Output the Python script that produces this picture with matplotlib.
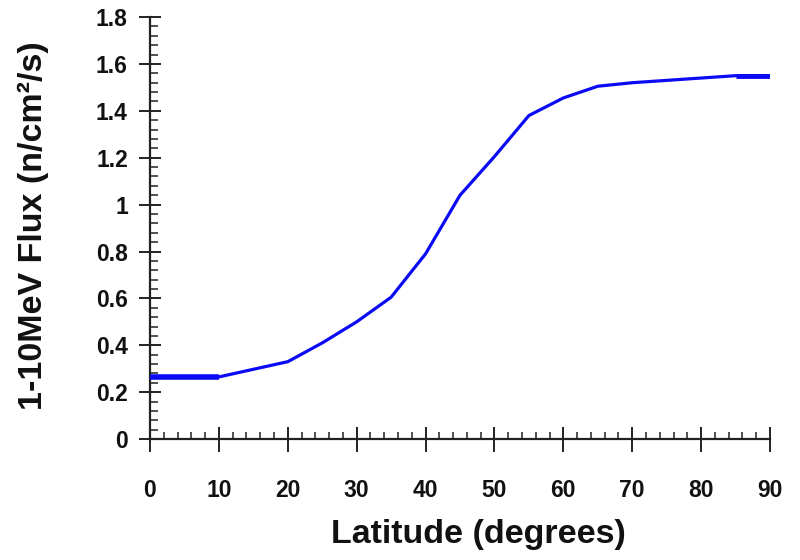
import numpy as np
import matplotlib.pyplot as plt
from matplotlib.ticker import MultipleLocator, FuncFormatter

plt.rcParams['font.family'] = ['Liberation Sans', 'DejaVu Sans']

# Data
latitude = [0, 10, 20, 25, 30, 35, 40, 45, 50, 55, 60, 65, 70, 75, 80, 85, 90]
flux = [0.265, 0.265, 0.33, 0.41, 0.50, 0.605, 0.79, 1.04, 1.205, 1.38, 1.455,
        1.505, 1.52, 1.53, 1.54, 1.55, 1.55]

fig = plt.figure(figsize=(8, 5.6), dpi=100)
ax = fig.add_axes([0.1875, 0.216, 0.775, 0.7535])

blue = '#0a0af5'
ax.plot(latitude, flux, color=blue, lw=2.3, solid_capstyle='butt', zorder=3)
# the flat end pieces are drawn heavier in the original
ax.plot(latitude[:2], flux[:2], color=blue, lw=4, solid_capstyle='butt', zorder=3)
ax.plot(latitude[-2:], flux[-2:], color=blue, lw=3.5, solid_capstyle='butt', zorder=3)

ax.set_xlim(0, 90)
ax.set_ylim(0, 1.8)

for side in ['top', 'right']:
    ax.spines[side].set_visible(False)
for side in ['left', 'bottom']:
    ax.spines[side].set_linewidth(1.6)
    ax.spines[side].set_color('#222222')

ax.xaxis.set_major_locator(MultipleLocator(10))
ax.xaxis.set_minor_locator(MultipleLocator(2))
ax.yaxis.set_major_locator(MultipleLocator(0.2))
ax.yaxis.set_minor_locator(MultipleLocator(0.04))
ax.yaxis.set_major_formatter(FuncFormatter(lambda v, p: f'{v:g}'))

ax.tick_params(axis='x', which='major', direction='inout', length=18, width=1.4,
               pad=20, labelsize=16.5, colors='#222222')
ax.tick_params(axis='x', which='minor', direction='in', length=5, width=1.1,
               colors='#222222')
ax.tick_params(axis='y', which='major', direction='inout', length=16, width=1.4,
               pad=8, labelsize=16.5, colors='#222222')
ax.tick_params(axis='y', which='minor', direction='in', length=6, width=1.1,
               colors='#222222')
for lab in ax.get_xticklabels() + ax.get_yticklabels():
    lab.set_fontweight('bold')
    lab.set_color('#111111')

ax.set_xlabel('Latitude (degrees)', fontsize=24.5, fontweight='bold',
              color='#111111')
ax.xaxis.set_label_coords(0.529, -0.19)
ax.set_ylabel('1-10MeV Flux (n/cm²/s)', fontsize=24.5, fontweight='bold',
              color='#111111')
ax.yaxis.set_label_coords(-0.163, 0.505)

fig.savefig('out.png', dpi=100)
